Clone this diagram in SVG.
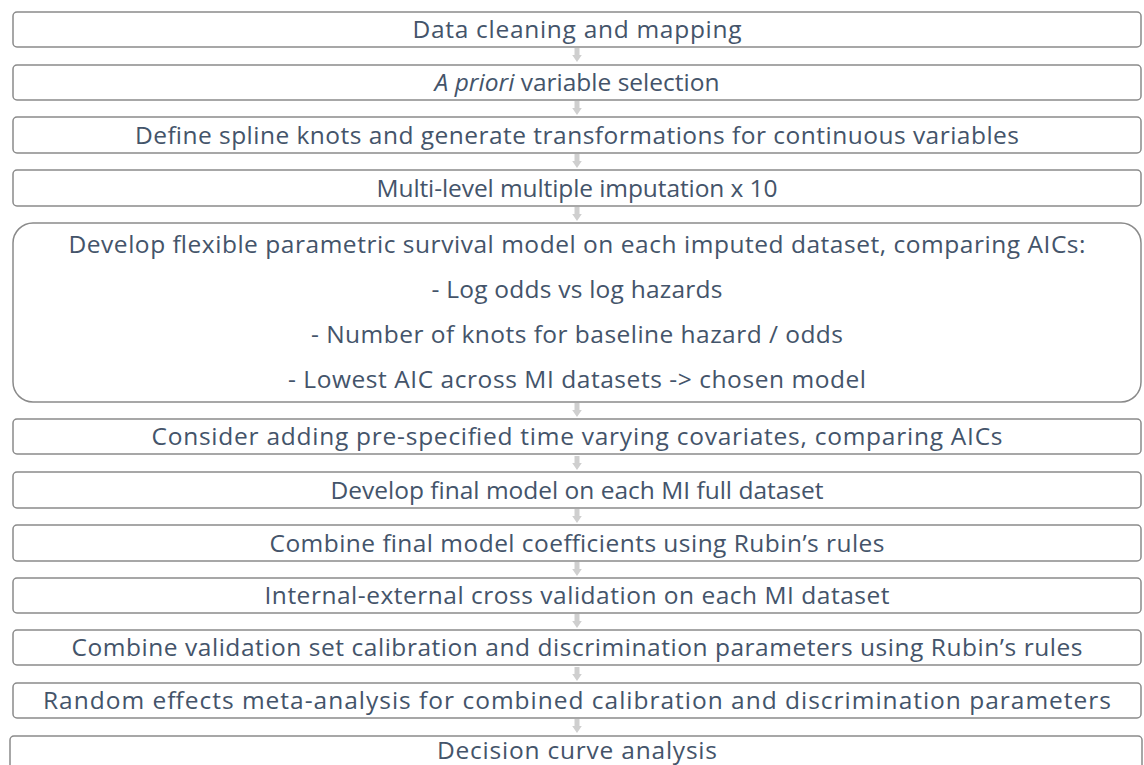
<svg xmlns="http://www.w3.org/2000/svg" width="1144" height="765" viewBox="0 0 1144 765">
  <style>
    .box { fill: #ffffff; stroke: #8a8a8a; stroke-width: 1.5; }
    .lbl { font-family: "Open Sans", "Noto Sans", sans-serif; font-size: 24.5px; fill: #44546a; text-anchor: middle; }
    .arr { fill: #cfcfcf; }
  </style>
  <defs>
    <!-- small block arrow pointing down, origin at top centre -->
    <path id="down" d="M-2.5,0 H2.5 V7 H4.8 L0,14 L-4.8,7 H-2.5 Z"/>
  </defs>

  <g id="connectors" class="arr">
    <use href="#down" x="577" y="48"/>
    <use href="#down" x="577" y="101"/>
    <use href="#down" x="577" y="154"/>
    <use href="#down" x="577" y="207"/>
    <use href="#down" x="577" y="403"/>
    <use href="#down" x="577" y="456"/>
    <use href="#down" x="577" y="509"/>
    <use href="#down" x="577" y="562"/>
    <use href="#down" x="577" y="614"/>
    <use href="#down" x="577" y="667"/>
    <use href="#down" x="577" y="719"/>
  </g>

  <g id="step1">
    <rect class="box" x="13" y="12" width="1128" height="35" rx="4"/>
    <text class="lbl" x="577" y="38" textLength="329" lengthAdjust="spacing">Data cleaning and mapping</text>
  </g>
  <g id="step2">
    <rect class="box" x="13" y="65" width="1128" height="35" rx="4"/>
    <text class="lbl" x="577" y="91"><tspan font-style="italic">A priori</tspan> variable selection</text>
  </g>
  <g id="step3">
    <rect class="box" x="13" y="117" width="1128" height="36" rx="4"/>
    <text class="lbl" x="577" y="143.5" textLength="884" lengthAdjust="spacing">Define spline knots and generate transformations for continuous variables</text>
  </g>
  <g id="step4">
    <rect class="box" x="13" y="170" width="1128" height="36" rx="4"/>
    <text class="lbl" x="577" y="196.5" textLength="401" lengthAdjust="spacing">Multi-level multiple imputation x 10</text>
  </g>
  <g id="step5">
    <rect class="box" x="13" y="223" width="1128" height="179" rx="20"/>
    <text class="lbl" x="577" y="253" textLength="1017" lengthAdjust="spacing">Develop flexible parametric survival model on each imputed dataset, comparing AICs:</text>
    <text class="lbl" x="577" y="298" textLength="291" lengthAdjust="spacing">- Log odds vs log hazards</text>
    <text class="lbl" x="577" y="343" textLength="532" lengthAdjust="spacing">- Number of knots for baseline hazard / odds</text>
    <text class="lbl" x="577" y="387.5" textLength="578" lengthAdjust="spacing">- Lowest AIC across MI datasets -&gt; chosen model</text>
  </g>
  <g id="step6">
    <rect class="box" x="13" y="419" width="1128" height="35" rx="4"/>
    <text class="lbl" x="577" y="445" textLength="851" lengthAdjust="spacing">Consider adding pre-specified time varying covariates, comparing AICs</text>
  </g>
  <g id="step7">
    <rect class="box" x="13" y="472" width="1128" height="36" rx="4"/>
    <text class="lbl" x="577" y="498.5" textLength="493" lengthAdjust="spacing">Develop final model on each MI full dataset</text>
  </g>
  <g id="step8">
    <rect class="box" x="13" y="525" width="1128" height="36" rx="4"/>
    <text class="lbl" x="577" y="551.5" textLength="615" lengthAdjust="spacing">Combine final model coefficients using Rubin’s rules</text>
  </g>
  <g id="step9">
    <rect class="box" x="13" y="578" width="1128" height="35" rx="4"/>
    <text class="lbl" x="577" y="604" textLength="625" lengthAdjust="spacing">Internal-external cross validation on each MI dataset</text>
  </g>
  <g id="step10">
    <rect class="box" x="13" y="630" width="1128" height="35" rx="4"/>
    <text class="lbl" x="577" y="656" textLength="1011" lengthAdjust="spacing">Combine validation set calibration and discrimination parameters using Rubin’s rules</text>
  </g>
  <g id="step11">
    <rect class="box" x="13" y="683" width="1128" height="35" rx="4"/>
    <text class="lbl" x="577" y="709" textLength="1068" lengthAdjust="spacing">Random effects meta-analysis for combined calibration and discrimination parameters</text>
  </g>
  <g id="step12">
    <rect class="box" x="10" y="736" width="1132" height="40" rx="4"/>
    <text class="lbl" x="577" y="759" textLength="280" lengthAdjust="spacing">Decision curve analysis</text>
  </g>
</svg>
